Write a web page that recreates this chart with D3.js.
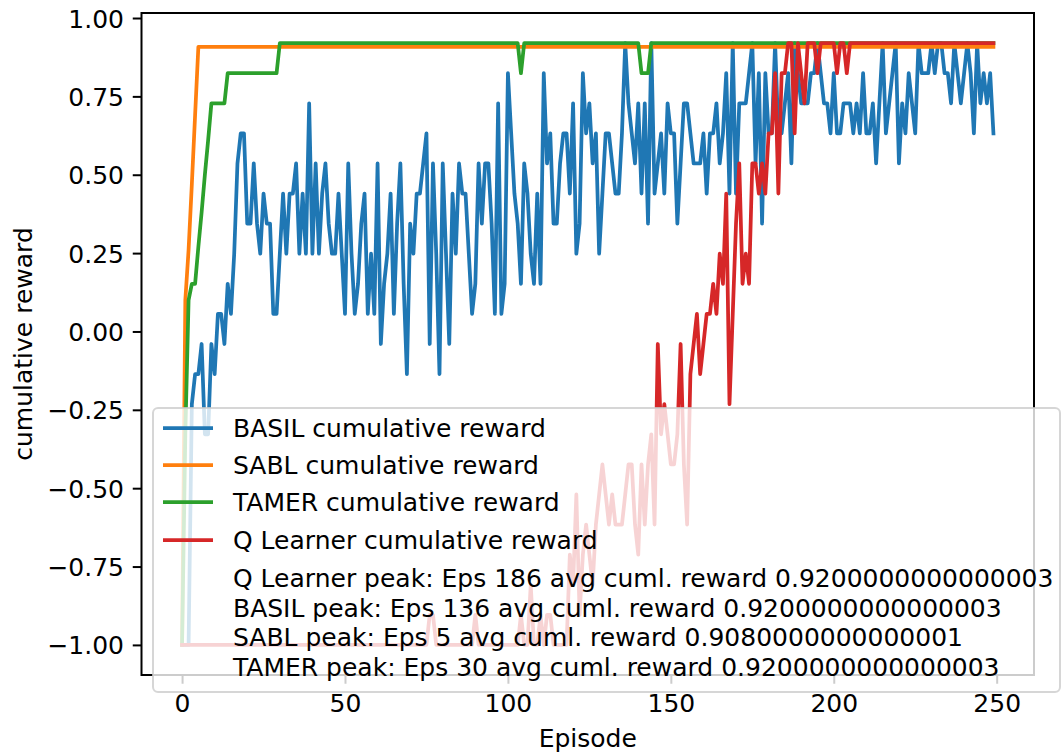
<!DOCTYPE html>
<html>
<head>
<meta charset="utf-8">
<script src="https://cdn.jsdelivr.net/npm/d3@7"></script>
<style>
  html, body { margin: 0; padding: 0; background: #ffffff; }
  svg text { font-family: "DejaVu Sans", sans-serif; fill: #000; }
</style>
</head>
<body>
<svg id="chart" width="1063" height="753"></svg>
<script>
// Episode index for every run (0 .. 249)
const episodes = d3.range(250);

// BASIL cumulative reward per episode
const basil = [
  -1, -1, -1, -0.232, -0.136, -0.136, -0.04, -0.328, -0.328, -0.04,
  -0.136, 0.056, 0.056, -0.04, 0.152, 0.056, 0.248, 0.536, 0.632, 0.632,
  0.344, 0.344, 0.536, 0.344, 0.248, 0.44, 0.344, 0.344, 0.056, 0.056,
  0.248, 0.44, 0.248, 0.44, 0.44, 0.536, 0.248, 0.44, 0.248, 0.728,
  0.248, 0.536, 0.248, 0.44, 0.536, 0.344, 0.248, 0.248, 0.44, 0.248,
  0.056, 0.536, 0.248, 0.056, 0.152, 0.344, 0.44, 0.056, 0.248, 0.056,
  0.536, -0.04, 0.152, 0.248, 0.44, 0.056, 0.344, 0.536, 0.152, -0.136,
  0.344, 0.248, 0.44, 0.44, 0.536, 0.632, -0.04, 0.536, 0.248, -0.136,
  0.536, 0.248, -0.04, 0.44, 0.248, 0.536, 0.44, 0.44, 0.248, 0.056,
  0.152, 0.536, 0.344, 0.536, 0.536, 0.344, 0.056, 0.728, 0.056, 0.152,
  0.824, 0.632, 0.44, 0.344, 0.152, 0.536, 0.44, 0.248, 0.152, 0.44,
  0.152, 0.824, 0.536, 0.632, 0.344, 0.344, 0.536, 0.632, 0.632, 0.44,
  0.728, 0.248, 0.344, 0.824, 0.632, 0.728, 0.536, 0.632, 0.248, 0.44,
  0.632, 0.632, 0.536, 0.44, 0.44, 0.632, 0.92, 0.728, 0.632, 0.536,
  0.728, 0.44, 0.728, 0.344, 0.92, 0.44, 0.536, 0.632, 0.44, 0.728,
  0.632, 0.632, 0.344, 0.536, 0.728, 0.728, 0.632, 0.536, 0.536, 0.536,
  0.632, 0.44, 0.632, 0.632, 0.728, 0.536, 0.632, 0.824, 0.44, 0.92,
  0.44, 0.728, 0.728, 0.728, 0.824, 0.92, 0.536, 0.824, 0.344, 0.824,
  0.632, 0.632, 0.92, 0.632, 0.632, 0.728, 0.824, 0.536, 0.92, 0.824,
  0.728, 0.728, 0.728, 0.824, 0.824, 0.92, 0.824, 0.728, 0.728, 0.632,
  0.824, 0.632, 0.632, 0.728, 0.728, 0.728, 0.632, 0.728, 0.632, 0.824,
  0.632, 0.632, 0.728, 0.536, 0.728, 0.92, 0.632, 0.728, 0.824, 0.92,
  0.536, 0.728, 0.632, 0.824, 0.728, 0.632, 0.92, 0.824, 0.824, 0.824,
  0.92, 0.824, 0.92, 0.92, 0.824, 0.824, 0.728, 0.92, 0.824, 0.728,
  0.824, 0.92, 0.824, 0.632, 0.92, 0.728, 0.824, 0.728, 0.824, 0.632
];

// SABL cumulative reward per episode
const sabl = [
  -1, 0.10, 0.26, 0.47, 0.69, 0.908, 0.908, 0.908, 0.908, 0.908,
  0.908, 0.908, 0.908, 0.908, 0.908, 0.908, 0.908, 0.908, 0.908, 0.908,
  0.908, 0.908, 0.908, 0.908, 0.908, 0.908, 0.908, 0.908, 0.908, 0.908,
  0.908, 0.908, 0.908, 0.908, 0.908, 0.908, 0.908, 0.908, 0.908, 0.908,
  0.908, 0.908, 0.908, 0.908, 0.908, 0.908, 0.908, 0.908, 0.908, 0.908,
  0.908, 0.908, 0.908, 0.908, 0.908, 0.908, 0.908, 0.908, 0.908, 0.908,
  0.908, 0.908, 0.908, 0.908, 0.908, 0.908, 0.908, 0.908, 0.908, 0.908,
  0.908, 0.908, 0.908, 0.908, 0.908, 0.908, 0.908, 0.908, 0.908, 0.908,
  0.908, 0.908, 0.908, 0.908, 0.908, 0.908, 0.908, 0.908, 0.908, 0.908,
  0.908, 0.908, 0.908, 0.908, 0.908, 0.908, 0.908, 0.908, 0.908, 0.908,
  0.908, 0.908, 0.908, 0.908, 0.908, 0.908, 0.908, 0.908, 0.908, 0.908,
  0.908, 0.908, 0.908, 0.908, 0.908, 0.908, 0.908, 0.908, 0.908, 0.908,
  0.908, 0.908, 0.908, 0.908, 0.908, 0.908, 0.908, 0.908, 0.908, 0.908,
  0.908, 0.908, 0.908, 0.908, 0.908, 0.908, 0.908, 0.908, 0.908, 0.908,
  0.908, 0.908, 0.908, 0.908, 0.908, 0.908, 0.908, 0.908, 0.908, 0.908,
  0.908, 0.908, 0.908, 0.908, 0.908, 0.908, 0.908, 0.908, 0.908, 0.908,
  0.908, 0.908, 0.908, 0.908, 0.908, 0.908, 0.908, 0.908, 0.908, 0.908,
  0.908, 0.908, 0.908, 0.908, 0.908, 0.908, 0.908, 0.908, 0.908, 0.908,
  0.908, 0.908, 0.908, 0.908, 0.908, 0.908, 0.908, 0.908, 0.908, 0.908,
  0.908, 0.908, 0.908, 0.908, 0.908, 0.908, 0.908, 0.908, 0.908, 0.908,
  0.908, 0.908, 0.908, 0.908, 0.908, 0.908, 0.908, 0.908, 0.908, 0.908,
  0.908, 0.908, 0.908, 0.908, 0.908, 0.908, 0.908, 0.908, 0.908, 0.908,
  0.908, 0.908, 0.908, 0.908, 0.908, 0.908, 0.908, 0.908, 0.908, 0.908,
  0.908, 0.908, 0.908, 0.908, 0.908, 0.908, 0.908, 0.908, 0.908, 0.908,
  0.908, 0.908, 0.908, 0.908, 0.908, 0.908, 0.908, 0.908, 0.908, 0.908
];

// TAMER cumulative reward per episode
const tamer = [
  -1, -0.328, 0.10, 0.152, 0.152, 0.27, 0.38, 0.50, 0.61, 0.728,
  0.728, 0.728, 0.728, 0.728, 0.824, 0.824, 0.824, 0.824, 0.824, 0.824,
  0.824, 0.824, 0.824, 0.824, 0.824, 0.824, 0.824, 0.824, 0.824, 0.824,
  0.92, 0.92, 0.92, 0.92, 0.92, 0.92, 0.92, 0.92, 0.92, 0.92,
  0.92, 0.92, 0.92, 0.92, 0.92, 0.92, 0.92, 0.92, 0.92, 0.92,
  0.92, 0.92, 0.92, 0.92, 0.92, 0.92, 0.92, 0.92, 0.92, 0.92,
  0.92, 0.92, 0.92, 0.92, 0.92, 0.92, 0.92, 0.92, 0.92, 0.92,
  0.92, 0.92, 0.92, 0.92, 0.92, 0.92, 0.92, 0.92, 0.92, 0.92,
  0.92, 0.92, 0.92, 0.92, 0.92, 0.92, 0.92, 0.92, 0.92, 0.92,
  0.92, 0.92, 0.92, 0.92, 0.92, 0.92, 0.92, 0.92, 0.92, 0.92,
  0.92, 0.92, 0.92, 0.92, 0.824, 0.92, 0.92, 0.92, 0.92, 0.92,
  0.92, 0.92, 0.92, 0.92, 0.92, 0.92, 0.92, 0.92, 0.92, 0.92,
  0.92, 0.92, 0.92, 0.92, 0.92, 0.92, 0.92, 0.92, 0.92, 0.92,
  0.92, 0.92, 0.92, 0.92, 0.92, 0.92, 0.92, 0.92, 0.92, 0.92,
  0.92, 0.824, 0.824, 0.824, 0.92, 0.92, 0.92, 0.92, 0.92, 0.92,
  0.92, 0.92, 0.92, 0.92, 0.92, 0.92, 0.92, 0.92, 0.92, 0.92,
  0.92, 0.92, 0.92, 0.92, 0.92, 0.92, 0.92, 0.92, 0.92, 0.92,
  0.92, 0.92, 0.92, 0.92, 0.92, 0.92, 0.92, 0.92, 0.92, 0.92,
  0.92, 0.92, 0.92, 0.92, 0.92, 0.92, 0.92, 0.92, 0.92, 0.92,
  0.92, 0.92, 0.92, 0.92, 0.92, 0.92, 0.92, 0.92, 0.92, 0.92,
  0.92, 0.92, 0.92, 0.92, 0.92, 0.92, 0.92, 0.92, 0.92, 0.92,
  0.92, 0.92, 0.92, 0.92, 0.92, 0.92, 0.92, 0.92, 0.92, 0.92,
  0.92, 0.92, 0.92, 0.92, 0.92, 0.92, 0.92, 0.92, 0.92, 0.92,
  0.92, 0.92, 0.92, 0.92, 0.92, 0.92, 0.92, 0.92, 0.92, 0.92,
  0.92, 0.92, 0.92, 0.92, 0.92, 0.92, 0.92, 0.92, 0.92, 0.92
];

// Q Learner cumulative reward per episode
const qLearner = [
  -1, -1, -1, -1, -1, -1, -1, -1, -1, -1,
  -1, -1, -1, -1, -1, -1, -1, -1, -1, -1,
  -1, -1, -1, -1, -1, -1, -1, -1, -1, -1,
  -1, -1, -1, -1, -1, -1, -1, -1, -1, -1,
  -1, -1, -1, -1, -1, -1, -1, -1, -1, -1,
  -1, -1, -1, -1, -1, -1, -1, -1, -1, -1,
  -1, -1, -1, -1, -1, -1, -1, -1, -1, -1,
  -1, -1, -1, -1, -1, -1, -0.904, -0.904, -1, -1,
  -1, -1, -1, -1, -1, -1, -1, -1, -1, -1,
  -0.904, -1, -1, -1, -1, -1, -1, -1, -1, -1,
  -1, -1, -1, -1, -0.904, -1, -1, -0.808, -1, -1,
  -0.904, -1, -0.904, -0.904, -1, -1, -1, -1, -1, -0.712,
  -0.808, -0.52, -0.904, -0.712, -0.616, -0.712, -0.808, -0.616, -0.52, -0.424,
  -0.52, -0.616, -0.52, -0.616, -0.616, -0.616, -0.52, -0.424, -0.424, -0.616,
  -0.712, -0.424, -0.616, -0.424, -0.328, -0.616, -0.04, -0.328, -0.232, -0.328,
  -0.424, -0.424, -0.328, -0.04, -0.424, -0.616, -0.136, -0.04, 0.056, -0.136,
  -0.04, 0.056, 0.056, 0.152, 0.056, 0.248, 0.152, 0.44, -0.232, 0.056,
  0.344, 0.536, 0.152, 0.248, 0.152, 0.536, 0.536, 0.44, 0.536, 0.44,
  0.632, 0.632, 0.824, 0.44, 0.824, 0.824, 0.92, 0.92, 0.632, 0.92,
  0.824, 0.728, 0.92, 0.92, 0.92, 0.824, 0.92, 0.92, 0.92, 0.92,
  0.92, 0.824, 0.92, 0.92, 0.824, 0.92, 0.92, 0.92, 0.92, 0.92,
  0.92, 0.92, 0.92, 0.92, 0.92, 0.92, 0.92, 0.92, 0.92, 0.92,
  0.92, 0.92, 0.92, 0.92, 0.92, 0.92, 0.92, 0.92, 0.92, 0.92,
  0.92, 0.92, 0.92, 0.92, 0.92, 0.92, 0.92, 0.92, 0.92, 0.92,
  0.92, 0.92, 0.92, 0.92, 0.92, 0.92, 0.92, 0.92, 0.92, 0.92
];

const xTicks = [0, 50, 100, 150, 200, 250];
const yTicks = [-1, -0.75, -0.5, -0.25, 0, 0.25, 0.5, 0.75, 1];

const seriesLabels = [
  "BASIL cumulative reward",
  "SABL cumulative reward",
  "TAMER cumulative reward",
  "Q Learner cumulative reward"
];
const peakNotes = [
  "Q Learner peak: Eps 186 avg cuml. reward 0.9200000000000003",
  "BASIL peak: Eps 136 avg cuml. reward 0.9200000000000003",
  "SABL peak: Eps 5 avg cuml. reward 0.9080000000000001",
  "TAMER peak: Eps 30 avg cuml. reward 0.9200000000000003"
];
const seriesColors = ["#1f77b4", "#ff7f0e", "#2ca02c", "#d62728"];

// ---- layout ----
const W = 1063, H = 753;
const plot = { left: 141.5, right: 1034, top: 13, bottom: 675 };
const fontSize = 25;
const lineWidth = 3.75;
const tickLen = 8.75, tickPad = 8.75;

const svg = d3.select("#chart");

// axis limits include a 5% margin around the data range
const xLo = 0, xHi = 249, yLo = -1, yHi = 0.92;
const xm = (xHi - xLo) * 0.05, ym = (yHi - yLo) * 0.05;
const x = d3.scaleLinear().domain([xLo - xm, xHi + xm]).range([plot.left, plot.right]);
const y = d3.scaleLinear().domain([yLo - ym, yHi + ym]).range([plot.bottom, plot.top]);

svg.append("defs").append("clipPath").attr("id", "plotClip")
  .append("rect")
  .attr("x", plot.left).attr("y", plot.top)
  .attr("width", plot.right - plot.left).attr("height", plot.bottom - plot.top);

// ---- series lines ----
const series = [basil, sabl, tamer, qLearner];
const line = d3.line().x((d, i) => x(episodes[i])).y(d => y(d));

const linesG = svg.append("g").attr("clip-path", "url(#plotClip)");
series.forEach((vals, si) => {
  linesG.append("path")
    .datum(vals)
    .attr("d", line)
    .attr("fill", "none")
    .attr("stroke", seriesColors[si])
    .attr("stroke-width", lineWidth)
    .attr("stroke-linejoin", "round")
    .attr("stroke-linecap", "square");
});

// ---- axes ----
const fmtY = d3.format(".2f");
const yAxis = d3.axisLeft(y)
  .tickValues(yTicks)
  .tickFormat(d => fmtY(d))
  .tickSizeInner(tickLen).tickSizeOuter(0).tickPadding(tickPad);
const xAxis = d3.axisBottom(x)
  .tickValues(xTicks)
  .tickFormat(d3.format("d"))
  .tickSizeInner(tickLen).tickSizeOuter(0).tickPadding(tickPad);

const gy = svg.append("g").attr("transform", `translate(${plot.left},0)`).call(yAxis);
const gx = svg.append("g").attr("transform", `translate(0,${plot.bottom})`).call(xAxis);
[gx, gy].forEach(g => {
  g.select(".domain").remove();
  g.selectAll(".tick line").attr("stroke", "#000").attr("stroke-width", 2);
  g.selectAll(".tick text")
    .attr("font-family", "DejaVu Sans, sans-serif")
    .attr("font-size", fontSize)
    .attr("fill", "#000");
});
gy.selectAll(".tick text").attr("dy", "0.36em");
gx.selectAll(".tick text").attr("dy", "0.76em");

// spines
svg.append("rect")
  .attr("x", plot.left).attr("y", plot.top)
  .attr("width", plot.right - plot.left).attr("height", plot.bottom - plot.top)
  .attr("fill", "none").attr("stroke", "#000").attr("stroke-width", 2);

// axis titles
svg.append("text")
  .attr("x", (plot.left + plot.right) / 2).attr("y", 747)
  .attr("text-anchor", "middle")
  .attr("font-size", fontSize)
  .text("Episode");
svg.append("text")
  .attr("transform", `translate(32,${(plot.top + plot.bottom) / 2}) rotate(-90)`)
  .attr("text-anchor", "middle")
  .attr("font-size", fontSize)
  .text("cumulative reward");

// ---- legend ----
const legend = { left: 153, top: 408, right: 1060, bottom: 692 };
const lg = svg.append("g");
lg.append("rect")
  .attr("x", legend.left).attr("y", legend.top)
  .attr("width", legend.right - legend.left).attr("height", legend.bottom - legend.top)
  .attr("rx", 5).attr("ry", 5)
  .attr("fill", "#ffffff").attr("fill-opacity", 0.8)
  .attr("stroke", "#cccccc").attr("stroke-opacity", 0.8).attr("stroke-width", 2);

const handleX0 = 163, handleX1 = 213, textX = 233;
const rowCenters = [428, 465, 502, 540];
seriesLabels.forEach((lab, i) => {
  const cy = rowCenters[i];
  lg.append("line")
    .attr("x1", handleX0).attr("x2", handleX1)
    .attr("y1", cy).attr("y2", cy)
    .attr("stroke", seriesColors[i]).attr("stroke-width", lineWidth)
    .attr("stroke-linecap", "butt");
  lg.append("text")
    .attr("x", textX).attr("y", cy + 9)
    .attr("font-size", fontSize)
    .text(lab);
});
const noteCenters = [578, 607.5, 637, 666.5];
peakNotes.forEach((note, i) => {
  lg.append("text")
    .attr("x", textX).attr("y", noteCenters[i] + 9)
    .attr("font-size", fontSize)
    .text(note);
});
</script>
</body>
</html>
